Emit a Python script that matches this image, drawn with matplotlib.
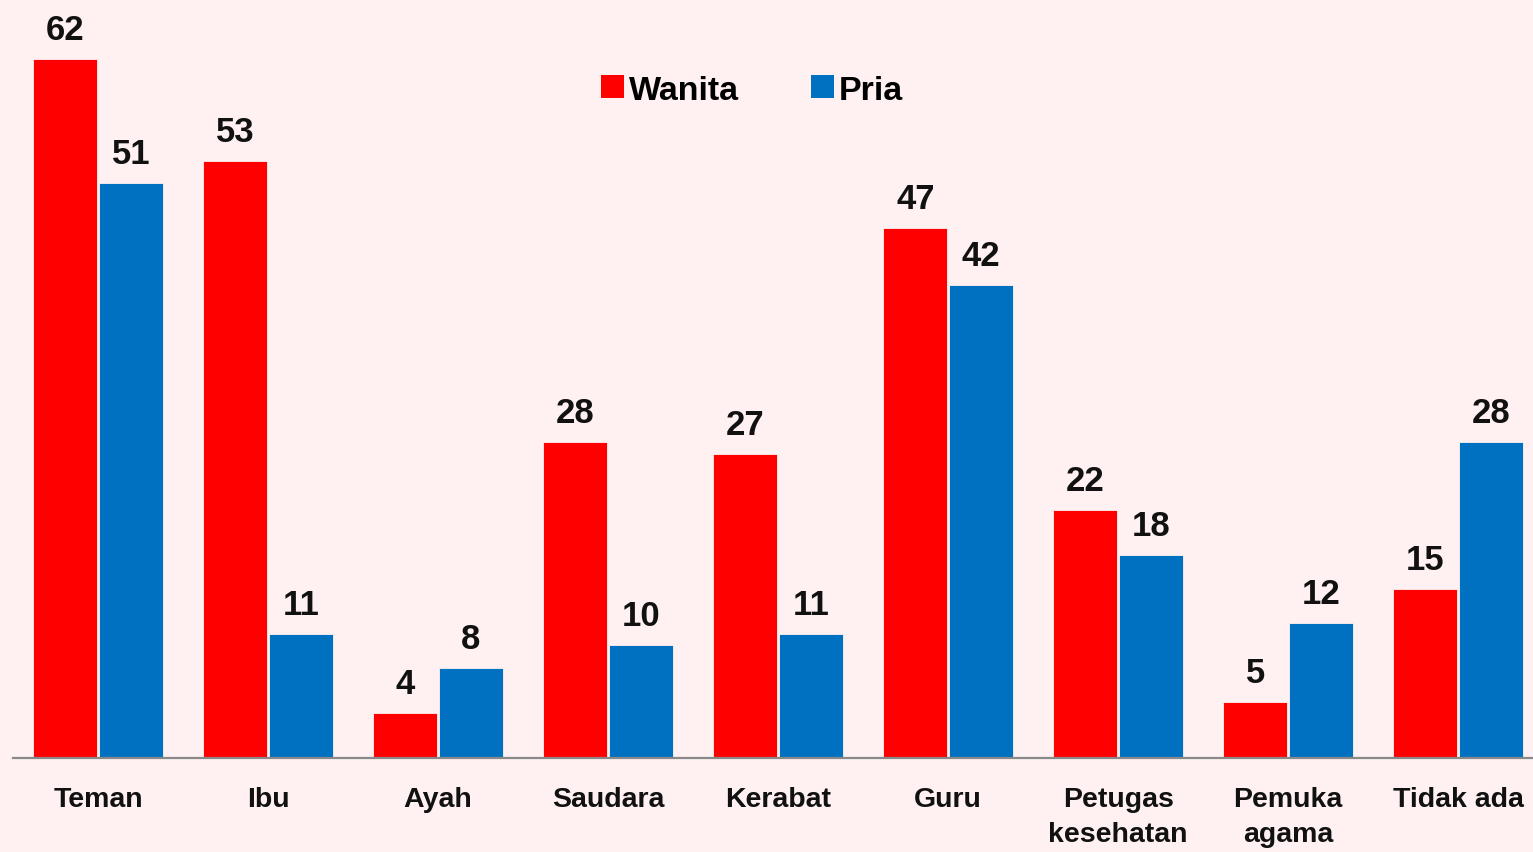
import numpy as np
import matplotlib
matplotlib.use('Agg')
import matplotlib.pyplot as plt
from matplotlib.patches import Patch

# data
categories=['Teman','Ibu','Ayah','Saudara','Kerabat','Guru','Petugas\nkesehatan','Pemuka\nagama','Tidak ada']
wanita=[62,53,4,28,27,47,22,5,15]
pria=[51,11,8,10,11,42,18,12,28]
series_names=['Wanita','Pria']

bg='#FFF1F1'
red='#FF0000'
blue='#0070C0'
plt.rcParams['font.family']=['Liberation Sans','DejaVu Sans']
plt.rcParams['font.weight']='bold'

fig=plt.figure(figsize=(15.33,8.53),dpi=100,facecolor=bg)
ax=fig.add_axes([13/1533,(853-759)/853,1520/1533,759/853])
ax.set_facecolor(bg)

x=np.arange(len(categories))
w=0.376
off=0.193
b1=ax.bar(x-off,wanita,w,color=red,edgecolor=bg,linewidth=0.6)
b2=ax.bar(x+off,pria,w,color=blue,edgecolor=bg,linewidth=0.6)

#value labels above each bar
for bars,vals in [(b1,wanita),(b2,pria)]:
    for r,v in zip(bars,vals):
        ax.annotate(str(v),(r.get_x()+r.get_width()/2,v),xytext=(0,14.5),textcoords='offset points',
                    ha='center',va='baseline',fontsize=25,fontweight='bold',color='#111111')

ax.set_xlim(-0.5,8.44)
ax.set_ylim(0,759/11.27)
ax.set_xticks(x)
ax.set_xticklabels(categories,fontsize=20.5,fontweight='bold',color='#111111',linespacing=1.45)
ax.tick_params(axis='x',length=0,pad=20.5)
ax.set_yticks([])
for s in ['top','left','right']:
    ax.spines[s].set_visible(False)
ax.spines['bottom'].set_color('#898989')
ax.spines['bottom'].set_linewidth(1.6)

handles=[Patch(facecolor=red),Patch(facecolor=blue)]
fig.legend(handles,series_names,loc='center',bbox_to_anchor=(752/1533,1-91/853),ncol=2,frameon=False,
           handlelength=0.68,handleheight=0.68,handletextpad=0.15,columnspacing=2.1,
           prop={'weight':'bold','size':24.5})

fig.savefig('out.png',dpi=100,facecolor=bg)
